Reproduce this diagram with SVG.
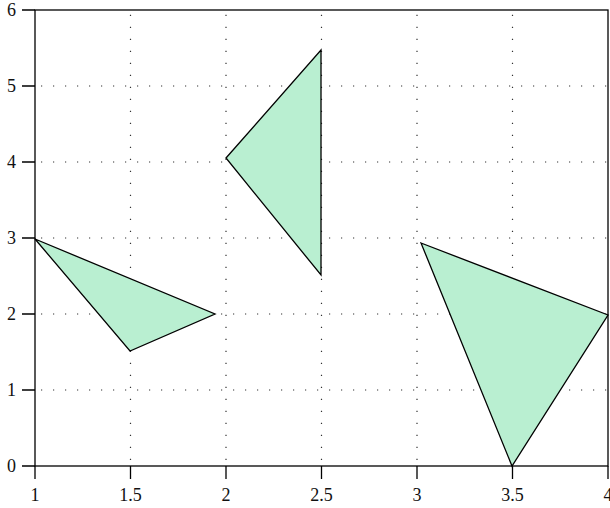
<svg xmlns="http://www.w3.org/2000/svg" width="610" height="508" viewBox="0 0 610 508">
<style>
.grid{stroke:#333;stroke-width:1.2;stroke-dasharray:1.2 10.8;fill:none}
.axis{stroke:#000;stroke-width:1.3;fill:none}
.tick{stroke:#000;stroke-width:1.3}
.tri{fill:#b9efd1;stroke:#000;stroke-width:1.3;stroke-linejoin:miter}
text{font-family:"Liberation Serif","DejaVu Serif",serif;font-size:18px;fill:#111}
.xl{text-anchor:middle}
.yl{text-anchor:end}
</style>
<rect width="610" height="508" fill="#fff"/>
<g id="grid">
<path class="grid" d="M41 390H608M41 314H608M41 238H608M41 162H608M41 86H608"/>
<path class="grid" d="M130.5 460V10M226 460V10M321.5 460V10M417 460V10M512.5 460V10"/>
</g>
<g id="triangle1"><polygon class="tri" points="35,239 130,351 215,314"/></g>
<g id="triangle2"><polygon class="tri" points="226,158 321,50 321,275"/></g>
<g id="triangle3"><polygon class="tri" points="421,243 608,315 512,466"/></g>
<g id="axes">
<rect class="axis" x="35" y="10" width="573" height="456"/>
<path class="tick" d="M22 466H35M22 390H35M22 314H35M22 238H35M22 162H35M22 86H35M22 10H35"/>
<path class="tick" d="M35 466V479M130.5 466V479M226 466V479M321.5 466V479M417 466V479M512.5 466V479M608 466V479"/>
</g>
<g id="labels">
<text class="yl" x="16" y="472">0</text>
<text class="yl" x="16" y="396">1</text>
<text class="yl" x="16" y="320">2</text>
<text class="yl" x="16" y="244">3</text>
<text class="yl" x="16" y="168">4</text>
<text class="yl" x="16" y="92">5</text>
<text class="yl" x="16" y="16">6</text>
<text class="xl" x="35" y="501">1</text>
<text class="xl" x="130.5" y="501">1.5</text>
<text class="xl" x="226" y="501">2</text>
<text class="xl" x="321.5" y="501">2.5</text>
<text class="xl" x="417" y="501">3</text>
<text class="xl" x="512.5" y="501">3.5</text>
<text class="xl" x="608" y="501">4</text>
</g>
</svg>
